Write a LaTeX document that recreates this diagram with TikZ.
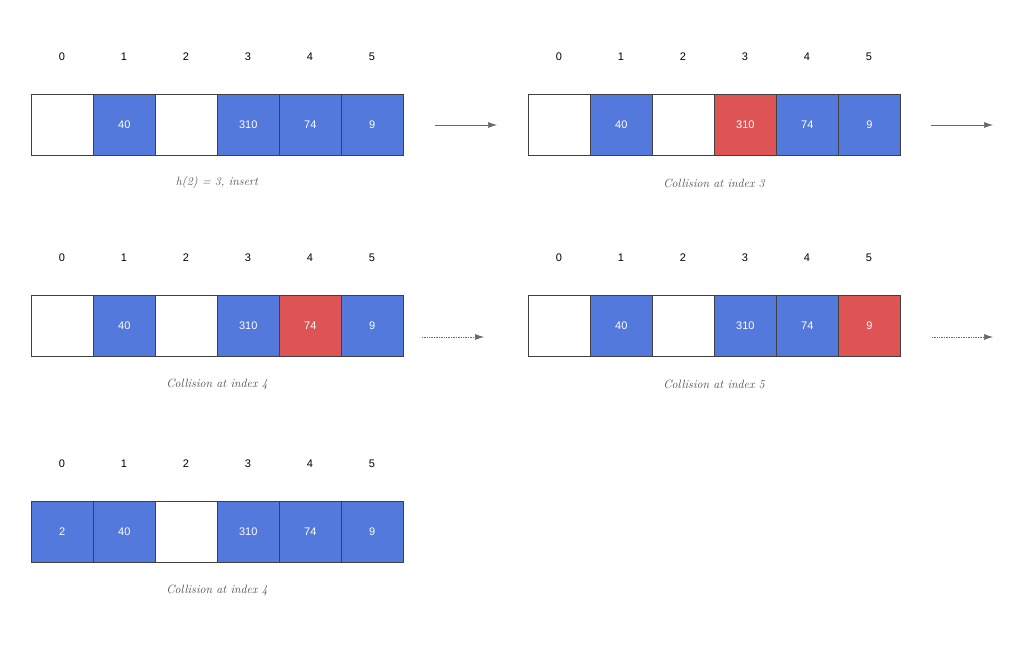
\documentclass[tikz,border=0pt]{standalone}
\usepackage{fontspec}
\setsansfont{Liberation Sans}
\usetikzlibrary{arrows.meta}
\definecolor{cblue}{RGB}{82,121,219}
\definecolor{cred}{RGB}{222,84,84}
\definecolor{agray}{RGB}{100,106,116}
\begin{document}
\begin{tikzpicture}[x=1pt,y=-1pt,
  cell/.style={draw=black!75,line width=0.6pt,minimum width=62pt,minimum height=61pt,anchor=north west,inner sep=0pt,font=\sffamily\fontsize{11}{13}\selectfont,text=white},
  idx/.style={font=\sffamily\fontsize{11}{13}\selectfont},
  captxt/.style={font=\itshape\fontsize{12}{14}\selectfont,text=black!70},
  arrline/.style={-{Latex[length=9pt,width=6pt]},draw=agray,line width=0.7pt}]
\useasboundingbox (0,0) rectangle (1024,647);
\newcommand{\drawarray}[4]{%
  \foreach \v/\c [count=\i from 0] in {#4} {
    \node[idx] (#1i\i) at (#2+31+62*\i, #3-37) {\i};
    \node[cell,fill=\c] (#1c\i) at (#2+62*\i, #3) {\v};
  }
}
\drawarray{a}{31}{94}{/white,40/cblue,/white,310/cblue,74/cblue,9/cblue}
\drawarray{b}{528}{94}{/white,40/cblue,/white,310/cred,74/cblue,9/cblue}
\drawarray{c}{31}{295}{/white,40/cblue,/white,310/cblue,74/cred,9/cblue}
\drawarray{d}{528}{295}{/white,40/cblue,/white,310/cblue,74/cblue,9/cred}
\drawarray{e}{31}{501}{2/cblue,40/cblue,/white,310/cblue,74/cblue,9/cblue}
\node[captxt] (ca) at (217,183) {h(2) = 3, insert};
\node[captxt] (cb) at (714,183) {Collision at index 3};
\node[captxt] (cc) at (217,384) {Collision at index 4};
\node[captxt] (cd) at (714,384) {Collision at index 5};
\node[captxt] (ce) at (217,590) {Collision at index 4};
\coordinate (p1) at (435,125); \coordinate (q1) at (497,125);
\coordinate (p2) at (931,125); \coordinate (q2) at (993,125);
\coordinate (p3) at (422,337); \coordinate (q3) at (484,337);
\coordinate (p4) at (932,337); \coordinate (q4) at (993,337);
\draw[arrline] (p1) -- (q1);
\draw[arrline] (p2) -- (q2);
\draw[arrline,densely dotted] (p3) -- (q3);
\draw[arrline,densely dotted] (p4) -- (q4);
\end{tikzpicture}
\end{document}
